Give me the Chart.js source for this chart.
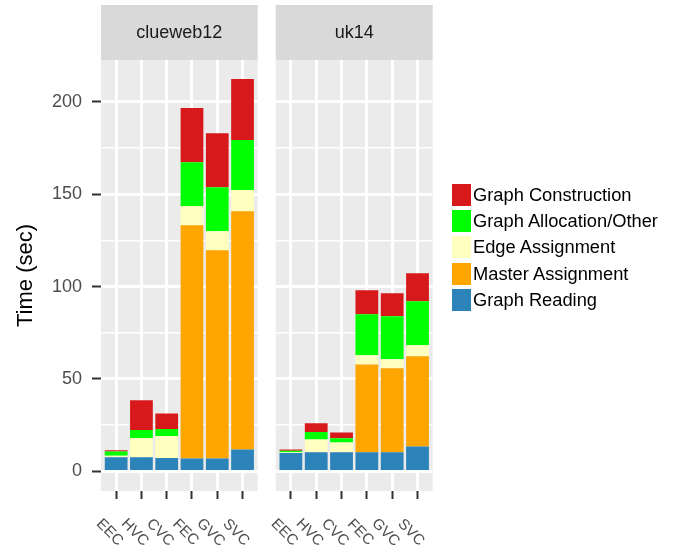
<!DOCTYPE html>
<html>
<head>
<meta charset="utf-8">
<script src="https://cdn.jsdelivr.net/npm/chart.js@4/dist/chart.umd.min.js"></script>
<style>
  html, body { margin: 0; padding: 0; background: #fff; }
  #wrap { position: relative; width: 681px; height: 556px; overflow: hidden;
          font-family: "Liberation Sans", Arial, Helvetica, sans-serif; }
  #wrap canvas { position: absolute; left: 0; top: 0; }
  #legend { position: absolute; left: 452px; top: 182px; }
  .item { display: flex; align-items: center; height: 26.2px; }
  .key { width: 19px; height: 22px; margin-right: 2px; }
  .lab { font-size: 18.3px; color: #000; white-space: nowrap; }
</style>
</head>
<body>
<div id="wrap">
  <canvas id="c1" width="681" height="556"></canvas>
  <canvas id="c2" width="681" height="556"></canvas>
  <div id="legend"></div>
</div>
<script>
// Partitioning strategies on the x axis
const categories = ['EEC', 'HVC', 'CVC', 'FEC', 'GVC', 'SVC'];

// Stack components, bottom to top
const seriesNames = ['Graph Reading', 'Master Assignment', 'Edge Assignment',
                     'Graph Allocation/Other', 'Graph Construction'];
const seriesColors = ['#2b83ba', '#ffa500', '#ffffbf', '#00ff00', '#d7191c'];

// Facet names
const facets = ['clueweb12', 'uk14'];

// Time (sec) per component, clueweb12
const clueweb12Reading      = [7.7, 7.7, 7.2, 7.0, 7.0, 11.9];
const clueweb12Master       = [0, 0, 0, 126.2, 112.7, 128.9];
const clueweb12Edge         = [0.8, 10.3, 11.9, 10.3, 10.3, 11.4];
const clueweb12Allocation   = [2.3, 4.4, 3.8, 23.8, 23.8, 27.1];
const clueweb12Construction = [0.7, 16.1, 8.5, 29.3, 29.2, 33.0];

// Time (sec) per component, uk14
const uk14Reading      = [9.9, 10.4, 10.4, 10.4, 10.4, 13.5];
const uk14Master       = [0, 0, 0, 47.5, 45.4, 48.8];
const uk14Edge         = [0.4, 6.9, 5.3, 4.9, 4.9, 5.9];
const uk14Allocation   = [0.9, 4.0, 2.2, 22.2, 23.2, 23.9];
const uk14Construction = [0.7, 4.7, 3.2, 13.0, 12.5, 15.1];

// Y axis ticks
const yMajorTicks = [0, 50, 100, 150, 200];
const yMinorTicks = [25, 75, 125, 175];

const FONT = '"Liberation Sans", Arial, Helvetica, sans-serif';

function buildDatasets(columns) {
  return columns.map((vals, s) => ({
    label: seriesNames[s],
    data: vals.map((v, i) => ({ x: i + 1, y: v })),
    backgroundColor: seriesColors[s],
    borderWidth: 0,
    barPercentage: 0.9,
    categoryPercentage: 1.0
  }));
}

// Panel background, facet strip, rotated category labels, y title
const panelDeco = {
  id: 'panelDeco',
  beforeDraw(chart, args, opts) {
    const { ctx, chartArea: a } = chart;
    ctx.save();
    ctx.fillStyle = '#ebebeb';
    ctx.fillRect(a.left, a.top, a.right - a.left, a.bottom - a.top);
    ctx.fillStyle = '#d9d9d9';
    ctx.fillRect(a.left, 5, a.right - a.left, a.top - 5);
    ctx.fillStyle = '#1a1a1a';
    ctx.font = '18px ' + FONT;
    ctx.textAlign = 'center';
    ctx.textBaseline = 'middle';
    ctx.fillText(opts.facet, (a.left + a.right) / 2, 33);
    ctx.restore();
  },
  afterDraw(chart, args, opts) {
    const { ctx, chartArea: a } = chart;
    const xs = chart.scales.x;
    ctx.save();
    ctx.fillStyle = '#4d4d4d';
    ctx.font = '15px ' + FONT;
    ctx.textAlign = 'center';
    ctx.textBaseline = 'middle';
    categories.forEach((c, i) => {
      const px = xs.getPixelForValue(i + 1);
      ctx.save();
      ctx.translate(px - 6.5, 532.5);
      ctx.rotate(Math.PI / 4);
      ctx.fillText(c, 0, 0);
      ctx.restore();
    });
    if (opts.yTitle) {
      ctx.save();
      ctx.fillStyle = '#000';
      ctx.font = '22px ' + FONT;
      ctx.translate(26, (a.top + a.bottom) / 2);
      ctx.rotate(-Math.PI / 2);
      ctx.fillText(opts.yTitle, 0, 0);
      ctx.restore();
    }
    ctx.restore();
  }
};

function makePanel(id, facet, columns, showY, padLeft, padRight) {
  return new Chart(document.getElementById(id), {
    type: 'bar',
    data: { datasets: buildDatasets(columns) },
    plugins: [panelDeco],
    options: {
      responsive: false,
      animation: false,
      events: [],
      layout: { padding: { left: padLeft, right: padRight, top: 60, bottom: 0 } },
      plugins: {
        legend: { display: false },
        tooltip: { enabled: false },
        panelDeco: { facet: facet, yTitle: showY ? 'Time (sec)' : null }
      },
      scales: {
        x: {
          type: 'linear',
          stacked: true,
          offset: false,
          min: 0.4,
          max: 6.6,
          border: { display: false },
          grid: { offset: false, color: '#ffffff', lineWidth: 3, drawTicks: true, tickLength: 8,
                  tickWidth: 2, tickColor: '#333333' },
          ticks: { display: false },
          afterBuildTicks: s => { s.ticks = categories.map((c, i) => ({ value: i + 1 })); },
          afterFit: s => { s.height = 65; }
        },
        y: {
          type: 'linear',
          stacked: true,
          min: -10.6,
          max: 222.6,
          border: { display: false },
          grid: {
            color: '#ffffff',
            lineWidth: c => (yMajorTicks.includes(c.tick.value) ? 3 : 1.5),
            drawTicks: showY,
            tickLength: 9,
            tickWidth: 2,
            tickColor: c => (yMajorTicks.includes(c.tick.value) ? '#333333' : 'rgba(0,0,0,0)')
          },
          ticks: {
            display: showY,
            color: '#4d4d4d',
            font: { family: FONT, size: 18 },
            padding: 10,
            callback: v => (yMajorTicks.includes(v) ? String(v) : '')
          },
          afterBuildTicks: s => {
            s.ticks = yMajorTicks.concat(yMinorTicks).sort((p, q) => p - q).map(v => ({ value: v }));
          },
          afterFit: s => { s.width = showY ? 101 : 0; }
        }
      }
    }
  });
}

makePanel('c1', facets[0],
  [clueweb12Reading, clueweb12Master, clueweb12Edge, clueweb12Allocation, clueweb12Construction],
  true, 0, 681 - 257.7);
makePanel('c2', facets[1],
  [uk14Reading, uk14Master, uk14Edge, uk14Allocation, uk14Construction],
  false, 275.7, 681 - 432.7);

// Legend, top entry is the top of the stack
const legend = document.getElementById('legend');
for (let s = seriesNames.length - 1; s >= 0; s--) {
  const item = document.createElement('div');
  item.className = 'item';
  const key = document.createElement('div');
  key.className = 'key';
  key.style.background = seriesColors[s];
  const lab = document.createElement('div');
  lab.className = 'lab';
  lab.textContent = seriesNames[s];
  item.appendChild(key);
  item.appendChild(lab);
  legend.appendChild(item);
}
</script>
</body>
</html>
